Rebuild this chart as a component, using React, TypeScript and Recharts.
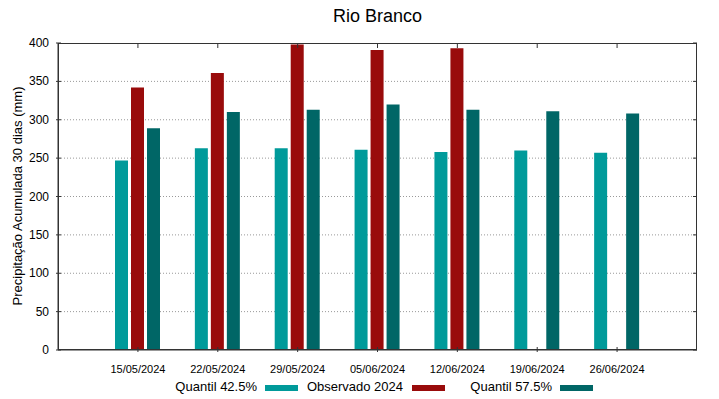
import React from 'react';
import { BarChart, Bar, XAxis, YAxis, CartesianGrid } from 'recharts';

const dates = ['15/05/2024', '22/05/2024', '29/05/2024', '05/06/2024', '12/06/2024', '19/06/2024', '26/06/2024'];
const quantil425 = [247, 263, 263, 261, 258, 260, 257];
const observado = [342, 361, 398, 391, 393, null, null];
const quantil575 = [289, 310, 313, 320, 313, 311, 308];
const yTicks = [0, 50, 100, 150, 200, 250, 300, 350, 400];

const data = dates.map((d, i) => ({
  date: d,
  q42: quantil425[i],
  obs: observado[i],
  q57: quantil575[i],
}));

const FONT = '"Liberation Sans", Arial, sans-serif';
const COLORS = { q42: '#009a9a', obs: '#990b0b', q57: '#006666' };
const AXIS = '#333';

// plot frame (margins), used for the mirrored inward ticks
const W = 719;
const H = 399;
const M = { top: 43, right: 22, left: 58, bottom: 49 };

const LeftTick = (props: any) => {
  const { x, y, payload } = props;
  const right = W - M.right;
  return (
    <g>
      <line x1={x} x2={x + 5} y1={y} y2={y} stroke={AXIS} />
      <line x1={right} x2={right - 4} y1={y} y2={y} stroke={AXIS} />
      <text x={x - 7} y={y} textAnchor="end" dominantBaseline="central" fontSize={12} fontFamily={FONT} fill="#000">
        {payload.value}
      </text>
    </g>
  );
};

const BottomTick = (props: any) => {
  const { x, y, payload } = props;
  return (
    <g>
      <line x1={x} x2={x} y1={y} y2={y - 5} stroke={AXIS} />
      <line x1={x} x2={x} y1={M.top} y2={M.top + 5} stroke={AXIS} />
      <text x={x} y={y + 17} textAnchor="middle" dominantBaseline="central" fontSize={11} fontFamily={FONT} fill="#000">
        {payload.value}
      </text>
    </g>
  );
};

const legendItems = [
  { label: 'Quantil 42.5%', color: COLORS.q42, textRight: 257, swatch: 265 },
  { label: 'Observado 2024', color: COLORS.obs, textRight: 403, swatch: 412 },
  { label: 'Quantil 57.5%', color: COLORS.q57, textRight: 552, swatch: 560 },
];

export default function App() {
  return (
    <div style={{ position: 'absolute', left: 0, top: 0, width: W, height: H, background: '#fff', fontFamily: FONT }}>
      <div style={{ position: 'absolute', left: 0, width: 755, top: 4, textAlign: 'center', fontSize: 18, lineHeight: '24px' }}>
        Rio Branco
      </div>
      <div
        style={{
          position: 'absolute',
          left: 17,
          top: 196,
          transform: 'translate(-50%, -50%) rotate(-90deg)',
          whiteSpace: 'nowrap',
          fontSize: 13,
        }}
      >
        Precipitação Acumulada 30 dias (mm)
      </div>
      <BarChart
        width={W}
        height={H}
        data={data}
        margin={{ top: M.top, right: M.right, left: 0, bottom: 0 }}
        barSize={13}
        barGap={3}
      >
        <CartesianGrid vertical={false} horizontalValues={[50, 100, 150, 200, 250, 300, 350]} stroke="#999" strokeDasharray="1 2" />
        <XAxis
          dataKey="date"
          height={M.bottom}
          padding={{ left: 40, right: 40 }}
          axisLine={{ stroke: AXIS }}
          tickLine={false}
          tickSize={0}
          tick={<BottomTick />}
          interval={0}
        />
        <YAxis
          width={M.left}
          domain={[0, 400]}
          ticks={yTicks}
          axisLine={{ stroke: AXIS }}
          tickLine={false}
          tickSize={0}
          tick={<LeftTick />}
          interval={0}
        />
        <Bar dataKey="q42" fill={COLORS.q42} isAnimationActive={false} />
        <Bar dataKey="obs" fill={COLORS.obs} isAnimationActive={false} />
        <Bar dataKey="q57" fill={COLORS.q57} isAnimationActive={false} />
      </BarChart>
      <svg width={W} height={H} style={{ position: 'absolute', left: 0, top: 0, pointerEvents: 'none' }}>
        <rect
          x={M.left + 0.5}
          y={M.top + 0.5}
          width={W - M.left - M.right - 1}
          height={H - M.top - M.bottom - 1}
          fill="none"
          stroke={AXIS}
        />
      </svg>
      {legendItems.map((it) => (
        <React.Fragment key={it.label}>
          <div
            style={{
              position: 'absolute',
              right: W - it.textRight,
              top: 379,
              fontSize: 13,
              lineHeight: '16px',
              whiteSpace: 'nowrap',
            }}
          >
            {it.label}
          </div>
          <div style={{ position: 'absolute', left: it.swatch, top: 385, width: 33, height: 6, background: it.color }} />
        </React.Fragment>
      ))}
    </div>
  );
}
